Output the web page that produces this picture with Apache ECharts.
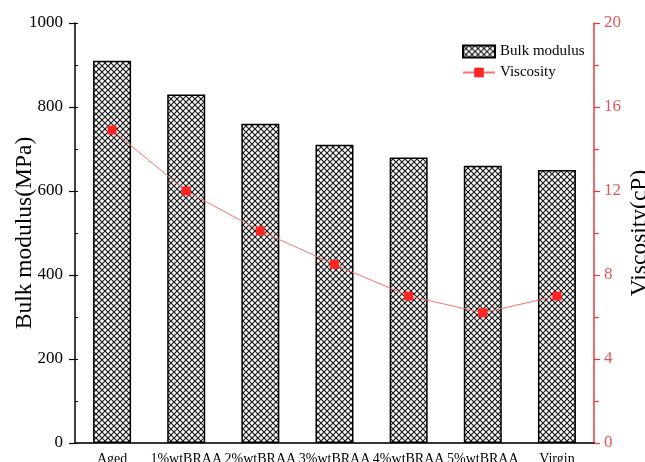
<!DOCTYPE html>
<html>
<head>
<meta charset="utf-8">
<script src="https://cdn.jsdelivr.net/npm/echarts@6/dist/echarts.min.js"></script>
<style>
  html, body { margin: 0; padding: 0; background: #fff; }
  #ch1 { width: 645px; height: 462px; }
</style>
</head>
<body>
<div id="ch1"></div>
<script>
const categories = ['Aged', '1%wtBRAA', '2%wtBRAA', '3%wtBRAA', '4%wtBRAA', '5%wtBRAA', 'Virgin']
const bulkModulus = [910, 830, 760, 710, 680, 660, 650]
const viscosity = [14.9, 12.0, 10.1, 8.5, 7.0, 6.2, 7.0]
const modulusTicks = [0, 200, 400, 600, 800, 1000]
const viscosityTicks = [0, 4, 8, 12, 16, 20]

const serif = '"Liberation Serif", "DejaVu Serif", serif'
const red = '#e8383d'

// cross-hatch fill for the bars
function hatch () {
  const c = document.createElement('canvas')
  c.width = 6
  c.height = 6
  const g = c.getContext('2d')
  g.fillStyle = '#fff'
  g.fillRect(0, 0, 6, 6)
  g.strokeStyle = '#1a1a1a'
  g.lineWidth = 1.2
  g.beginPath()
  g.moveTo(-1, -1); g.lineTo(7, 7)
  g.moveTo(7, -1); g.lineTo(-1, 7)
  g.stroke()
  return c
}

const cht1 = echarts.init(document.getElementById('ch1'))

const options1 = {
  animation: false,
  grid: { left: 75, right: 51, top: 23, bottom: 19, outerBoundsMode: 'none' },
  legend: {
    orient: 'vertical',
    left: 462,
    top: 44,
    padding: 0,
    itemWidth: 32,
    itemHeight: 12,
    itemGap: 6,
    textStyle: { fontFamily: serif, fontSize: 15, color: '#000' },
    data: [{ name: 'Bulk modulus', icon: 'rect' }, { name: 'Viscosity' }]
  },
  xAxis: [
    {
      type: 'category',
      data: categories,
      position: 'bottom',
      axisLine: { lineStyle: { color: '#000', width: 1.5 } },
      axisTick: { show: false },
      axisLabel: { interval: 0, fontFamily: serif, fontSize: 14, color: '#000', margin: 9 }
    },
    {
      type: 'category',
      data: categories,
      position: 'top',
      axisLine: { lineStyle: { color: '#333', width: 1.5 } },
      axisTick: { inside: true, alignWithLabel: true, length: 6, lineStyle: { color: '#222', width: 1.2 } },
      axisLabel: { show: false }
    },
    {
      type: 'category',
      data: categories,
      position: 'top',
      axisLine: { show: false },
      axisTick: { inside: true, length: 3, lineStyle: { color: '#222' } },
      axisLabel: { show: false }
    }
  ],
  yAxis: [
    {
      type: 'value',
      position: 'left',
      min: modulusTicks[0],
      max: modulusTicks[modulusTicks.length - 1],
      interval: modulusTicks[1] - modulusTicks[0],
      name: 'Bulk modulus(MPa)',
      nameLocation: 'middle',
      nameGap: 38,
      nameMoveOverlap: false,
      nameTextStyle: { fontFamily: serif, fontSize: 23.5, color: '#000' },
      axisLine: { show: true, lineStyle: { color: '#000', width: 1.5 } },
      axisTick: { show: true, length: 6, lineStyle: { color: '#000', width: 1.2 } },
      axisLabel: { fontFamily: serif, fontSize: 17, color: '#000', margin: 12, formatter: v => String(v) },
      splitLine: { show: false }
    },
    {
      type: 'value',
      position: 'right',
      min: viscosityTicks[0],
      max: viscosityTicks[viscosityTicks.length - 1],
      interval: viscosityTicks[1] - viscosityTicks[0],
      name: 'Viscosity(cP)',
      nameLocation: 'middle',
      nameGap: 34,
      nameMoveOverlap: false,
      nameTextStyle: { fontFamily: serif, fontSize: 23.5, color: '#000' },
      axisLine: { show: true, lineStyle: { color: red, width: 1.5 } },
      axisTick: { show: true, length: 6, lineStyle: { color: red, width: 1.2 } },
      minorTick: { show: true, splitNumber: 2, length: 5, lineStyle: { color: red, width: 1.2 } },
      axisLabel: { fontFamily: serif, fontSize: 17, color: '#e0575b', margin: 10, formatter: v => String(v) },
      splitLine: { show: false }
    },
    {
      type: 'value',
      position: 'left',
      min: modulusTicks[0],
      max: modulusTicks[modulusTicks.length - 1],
      interval: (modulusTicks[1] - modulusTicks[0]) / 2,
      axisLine: { show: false },
      axisTick: { show: true, inside: true, length: 3, lineStyle: { color: '#000' } },
      axisLabel: { show: false },
      splitLine: { show: false }
    }
  ],
  series: [
    {
      name: 'Bulk modulus',
      type: 'bar',
      yAxisIndex: 0,
      barWidth: 38,
      data: bulkModulus,
      itemStyle: {
        color: { image: hatch(), repeat: 'repeat' },
        borderColor: '#000',
        borderWidth: 1.5
      }
    },
    {
      name: 'Viscosity',
      type: 'line',
      yAxisIndex: 1,
      data: viscosity,
      symbol: 'rect',
      symbolSize: 9,
      itemStyle: { color: '#ff2424' },
      lineStyle: { color: '#f07474', width: 1 },
      z: 5
    }
  ]
}
cht1.setOption(options1)
</script>
</body>
</html>
